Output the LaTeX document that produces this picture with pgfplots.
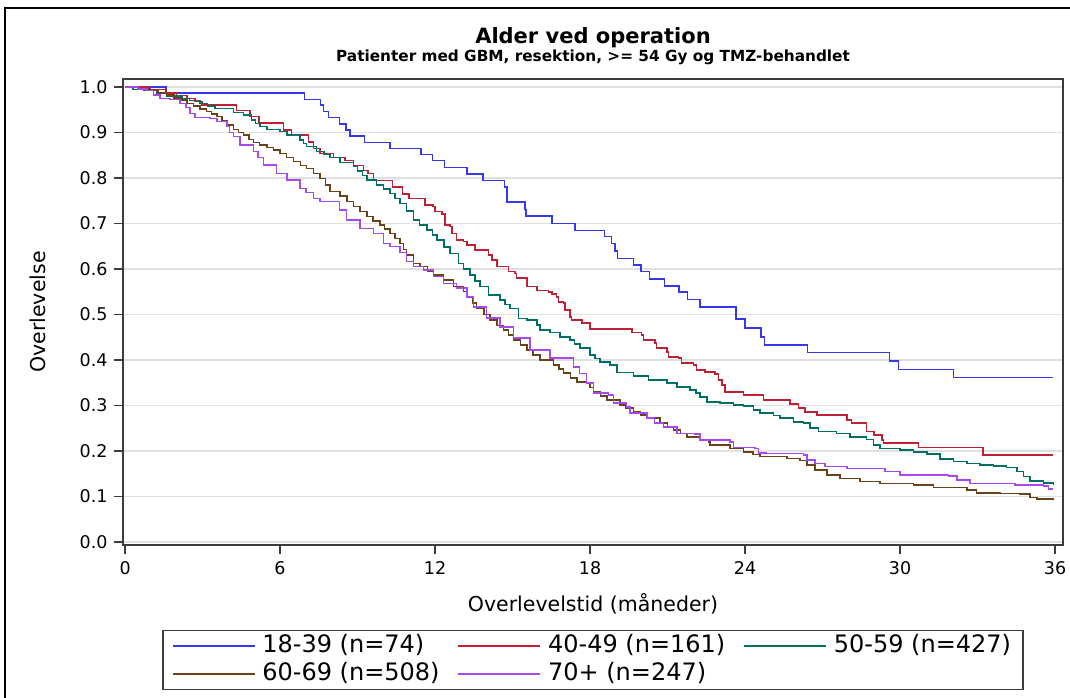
\documentclass[border=0pt]{standalone}
\usepackage{pgfplots}
\pgfplotsset{compat=1.18}
\usepackage{fontspec}
\setmainfont{DejaVu Sans}
\definecolor{cblue}{RGB}{55,55,235}
\definecolor{cred}{RGB}{192,32,52}
\definecolor{cgreen}{RGB}{0,112,100}
\definecolor{cbrown}{RGB}{105,66,26}
\definecolor{cpurple}{RGB}{168,72,238}
\definecolor{axgray}{RGB}{60,60,60}
\begin{document}
\begin{tikzpicture}[x=1pt,y=1pt]
\useasboundingbox (0,0) rectangle (1070,698);
\draw[line width=1.6pt] (5,-10) -- (5,690) -- (1080,690);
\node[font=\fontsize{21}{24}\selectfont\bfseries, anchor=base] at (593,654.7) {Alder ved operation};
\node[font=\fontsize{15.3}{18}\selectfont\bfseries, anchor=base] at (593,636.3) {Patienter med GBM, resektion, >= 54 Gy og TMZ-behandlet};
\begin{axis}[
  at={(123pt,153pt)}, anchor=south west,
  width=940pt, height=466pt, scale only axis,
  xmin=-0.08, xmax=36.31, ymin=-0.0066, ymax=1.0176,
  xtick={0,6,12,18,24,30,36},
  ytick={0,0.1,0.2,0.3,0.4,0.5,0.6,0.7,0.8,0.9,1.0},
  yticklabel style={xshift=-3pt, /pgf/number format/.cd, fixed, fixed zerofill, precision=1, assume math mode=true},
  xticklabel style={yshift=-4pt, /pgf/number format/assume math mode=true},
  tick label style={font=\fontsize{17.5}{20}\selectfont},
  tick align=outside,
  xtick pos=bottom, ytick pos=left,
  major tick length=9pt,
  tick style={draw=axgray, line width=1.2pt},
  axis line style={draw=axgray, line width=1.4pt},
  ymajorgrids,
  grid style={draw=black!12, line width=1.4pt},
  xlabel={Overlevelstid (måneder)},
  ylabel={Overlevelse},
  label style={font=\fontsize{20.5}{24}\selectfont},
  xlabel style={at={(axis description cs:0.5,-0.1266)}, anchor=center},
  ylabel style={at={(axis description cs:-0.0904,0.5)}, anchor=center},
  every axis plot/.append style={line width=1.5pt, const plot},
  legend columns=3,
  legend cell align=left,
  legend image code/.code={\draw[#1, line width=1.5pt] (0pt,0pt) -- (82pt,0pt);},
  legend style={at={(0.5,-0.1824)}, anchor=north, draw=axgray, line width=1.4pt,
    font=\fontsize{24}{26}\selectfont, inner xsep=9pt, inner ysep=1.5pt,
    nodes={text height=17pt, text depth=5pt, inner sep=3pt},
    row sep=0pt,
    /tikz/every even column/.append style={column sep=15pt},
    /tikz/every odd column/.append style={column sep=4pt}},
]
\addplot[cblue] coordinates {
(0,1) (1.59,0.9865) (6.94,0.973) (7.57,0.960) (7.68,0.946) (7.88,0.933) (8.30,0.919) (8.56,0.905) (8.71,0.892) (9.27,0.878) (10.26,0.865) (11.46,0.852) (11.91,0.838) (12.36,0.823) (13.23,0.809) (13.85,0.795) (14.69,0.780) (14.78,0.747) (15.49,0.731) (15.52,0.7165) (16.52,0.700) (17.42,0.685) (18.56,0.671) (18.84,0.6565) (18.97,0.640) (19.06,0.6235) (19.68,0.609) (19.98,0.594) (20.30,0.578) (20.88,0.563) (21.44,0.549) (21.77,0.533) (22.26,0.517) (23.66,0.490) (24.0,0.470) (24.61,0.451) (24.75,0.433) (26.41,0.416) (29.59,0.398) (29.95,0.3795) (32.07,0.362) (35.94,0.362)
};
\addlegendentry{18-39 (n=74)}
\addplot[cred] coordinates {
(0,1) (0.9,0.994) (1.6,0.987) (2.0,0.981) (2.4,0.975) (2.7,0.968) (2.97,0.960) (4.32,0.948) (4.84,0.935) (5.19,0.921) (6.13,0.905) (6.45,0.894) (7.10,0.879) (7.29,0.865) (7.55,0.854) (8.07,0.845) (8.52,0.838) (8.84,0.828) (9.23,0.817) (9.40,0.810) (9.61,0.795) (10.36,0.780) (10.74,0.765) (11.0,0.755) (11.61,0.741) (11.93,0.737) (12.0,0.726) (12.26,0.721) (12.39,0.697) (12.58,0.693) (12.65,0.678) (12.84,0.664) (13.1,0.660) (13.23,0.653) (13.55,0.642) (14.07,0.631) (14.2,0.620) (14.39,0.605) (14.84,0.594) (15.1,0.590) (15.16,0.580) (15.55,0.561) (15.94,0.553) (16.4,0.549) (16.52,0.545) (16.7,0.539) (16.77,0.528) (16.97,0.525) (17.03,0.510) (17.23,0.495) (17.29,0.488) (17.68,0.481) (18.0,0.468) (19.62,0.460) (20.0,0.455) (20.07,0.444) (20.52,0.437) (20.58,0.426) (20.97,0.418) (21.03,0.407) (21.42,0.404) (21.55,0.393) (22.0,0.389) (22.13,0.378) (22.45,0.374) (22.84,0.369) (22.97,0.356) (23.1,0.345) (23.23,0.330) (23.94,0.323) (24.71,0.312) (25.74,0.303) (26.07,0.294) (26.33,0.286) (26.78,0.279) (27.94,0.268) (28.13,0.261) (28.71,0.2425) (29.0,0.235) (29.30,0.224) (29.36,0.218) (30.71,0.208) (33.21,0.191) (35.94,0.191)
};
\addlegendentry{40-49 (n=161)}
\addplot[cgreen] coordinates {
(0,1) (0.3,0.995) (0.71,0.992) (1.23,0.986) (1.61,0.980) (2.2,0.975) (2.5,0.970) (2.90,0.964) (3.2,0.958) (3.48,0.953) (4.19,0.9436) (4.58,0.938) (4.90,0.927) (5.05,0.920) (5.23,0.913) (5.49,0.907) (6.0,0.902) (6.26,0.894) (6.77,0.8835) (6.9,0.876) (7.03,0.869) (7.42,0.858) (7.7,0.852) (7.94,0.8455) (8.32,0.834) (8.84,0.825) (9.0,0.815) (9.2,0.805) (9.36,0.796) (9.74,0.785) (10.0,0.776) (10.26,0.766) (10.45,0.755) (10.65,0.744) (10.9,0.728) (11.16,0.708) (11.4,0.697) (11.68,0.686) (11.9,0.675) (12.07,0.664) (12.35,0.648) (12.58,0.634) (12.90,0.6125) (13.1,0.600) (13.36,0.587) (13.55,0.574) (13.74,0.561) (14.07,0.543) (14.52,0.532) (14.7,0.522) (14.91,0.5136) (15.23,0.4916) (15.55,0.488) (15.94,0.477) (16.07,0.466) (16.45,0.460) (16.84,0.451) (17.23,0.444) (17.4,0.435) (17.62,0.426) (18.0,0.411) (18.2,0.403) (18.39,0.396) (18.78,0.389) (19.04,0.372) (19.68,0.365) (20.26,0.356) (20.97,0.349) (21.36,0.341) (21.87,0.334) (22.1,0.327) (22.26,0.319) (22.52,0.308) (23.03,0.305) (23.55,0.301) (23.94,0.299) (24.32,0.290) (24.58,0.283) (25.10,0.278) (25.36,0.272) (25.87,0.264) (26.26,0.261) (26.52,0.250) (26.84,0.2425) (27.55,0.239) (28.07,0.231) (28.71,0.2256) (28.97,0.213) (29.23,0.206) (30.0,0.202) (30.52,0.198) (31.04,0.193) (31.55,0.182) (32.07,0.1765) (32.59,0.173) (33.10,0.169) (33.62,0.167) (34.13,0.164) (34.52,0.1545) (34.78,0.1435) (35.04,0.134) (35.55,0.130) (35.94,0.125)
};
\addlegendentry{50-59 (n=427)}
\addplot[cbrown] coordinates {
(0,1) (0.5,0.996) (0.97,0.992) (1.3,0.987) (1.61,0.982) (1.9,0.976) (2.13,0.971) (2.4,0.964) (2.64,0.958) (2.9,0.952) (3.16,0.946) (3.35,0.941) (3.55,0.935) (3.75,0.926) (3.94,0.9165) (4.19,0.907) (4.4,0.900) (4.58,0.894) (4.8,0.885) (4.97,0.8776) (5.2,0.872) (5.49,0.8674) (5.75,0.861) (6.0,0.854) (6.25,0.845) (6.52,0.836) (6.8,0.828) (7.03,0.821) (7.3,0.810) (7.55,0.799) (7.75,0.785) (7.94,0.770) (8.32,0.760) (8.6,0.748) (8.84,0.737) (9.1,0.726) (9.36,0.715) (9.6,0.706) (9.87,0.697) (10.05,0.688) (10.26,0.678) (10.45,0.667) (10.65,0.6565) (10.78,0.643) (10.90,0.631) (11.16,0.6125) (11.42,0.605) (11.7,0.596) (11.94,0.587) (12.32,0.576) (12.71,0.561) (13.10,0.550) (13.23,0.539) (13.45,0.525) (13.61,0.5136) (13.9,0.500) (14.13,0.488) (14.4,0.476) (14.65,0.466) (14.85,0.455) (15.03,0.444) (15.3,0.433) (15.55,0.422) (15.8,0.411) (16.07,0.400) (16.58,0.389) (16.8,0.380) (16.97,0.371) (17.25,0.360) (17.49,0.352) (17.87,0.349) (18.0,0.340) (18.13,0.330) (18.4,0.321) (18.65,0.312) (19.16,0.301) (19.4,0.294) (19.68,0.286) (19.95,0.279) (20.20,0.272) (20.71,0.261) (21.0,0.253) (21.23,0.246) (21.5,0.238) (21.75,0.231) (22.26,0.2256) (22.58,0.220) (22.65,0.213) (23.42,0.206) (23.94,0.198) (24.3,0.192) (24.58,0.1875) (25.62,0.184) (26.13,0.1787) (26.39,0.169) (26.71,0.158) (27.17,0.147) (27.68,0.140) (28.46,0.1326) (29.23,0.129) (30.52,0.125) (31.29,0.120) (32.59,0.114) (32.97,0.108) (33.87,0.107) (34.65,0.1055) (35.04,0.098) (35.30,0.095) (35.94,0.094)
};
\addlegendentry{60-69 (n=508)}
\addplot[cpurple] coordinates {
(0,1) (0.5,0.996) (0.84,0.992) (1.10,0.982) (1.35,0.975) (1.74,0.973) (2.13,0.964) (2.35,0.955) (2.52,0.942) (2.71,0.933) (3.29,0.931) (3.55,0.924) (3.94,0.913) (4.05,0.900) (4.19,0.891) (4.45,0.8725) (4.97,0.858) (5.15,0.845) (5.35,0.8286) (5.87,0.810) (6.26,0.796) (6.77,0.777) (7.0,0.768) (7.29,0.755) (7.55,0.748) (8.3,0.730) (8.58,0.708) (9.10,0.689) (9.61,0.678) (10.0,0.6565) (10.26,0.649) (10.65,0.636) (10.90,0.616) (11.16,0.605) (11.55,0.598) (11.94,0.583) (12.32,0.5686) (12.84,0.558) (13.23,0.539) (13.49,0.517) (14.0,0.492) (14.52,0.473) (15.03,0.448) (15.68,0.422) (16.45,0.404) (17.36,0.385) (17.6,0.370) (17.87,0.349) (18.13,0.327) (18.71,0.323) (18.90,0.305) (19.42,0.297) (19.55,0.283) (20.20,0.272) (20.5,0.262) (20.84,0.253) (21.36,0.239) (22.07,0.237) (22.26,0.224) (23.42,0.220) (23.55,0.208) (24.39,0.206) (24.52,0.196) (24.84,0.195) (26.26,0.191) (26.39,0.180) (26.71,0.173) (27.10,0.1655) (27.94,0.162) (29.42,0.1545) (30.0,0.147) (31.87,0.145) (32.20,0.136) (32.71,0.129) (34.46,0.125) (35.55,0.123) (35.75,0.116) (35.94,0.116)
};
\addlegendentry{70+ (n=247)}
\end{axis}
\end{tikzpicture}
\end{document}
